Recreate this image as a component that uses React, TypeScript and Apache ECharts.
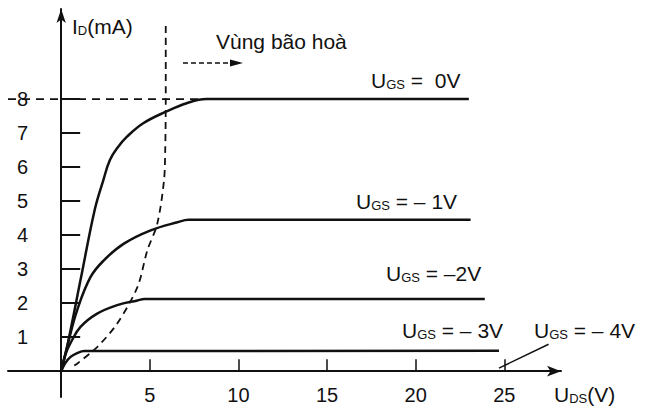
import React, { useEffect, useRef } from "react";
import * as echarts from "echarts";

// U_DS (V) and I_D (mA)
const ugs0U = [0, 0.38, 1.13, 1.9, 2.38, 2.75, 3.22, 3.7, 4.63, 5.91, 7.08, 8.2, 23.0];
const ugs0I = [0, 0.83, 2.78, 4.76, 5.62, 6.21, 6.6, 6.89, 7.29, 7.63, 7.88, 8.0, 8.0];

const ugs1U = [0, 0.4, 0.9, 1.66, 2.41, 3.54, 5.05, 6.56, 7.2, 23.1];
const ugs1I = [0, 0.85, 1.79, 2.77, 3.26, 3.75, 4.14, 4.38, 4.45, 4.45];

const ugs2U = [0, 0.25, 0.55, 1.09, 2.03, 3.16, 4.3, 4.7, 23.9];
const ugs2I = [0, 0.5, 0.85, 1.3, 1.69, 1.94, 2.08, 2.12, 2.12];

const ugs3U = [0, 0.25, 0.53, 0.9, 1.3, 24.7];
const ugs3I = [0, 0.25, 0.42, 0.53, 0.59, 0.6];

// pinch-off (saturation boundary) dashed locus
const locusU = [5.9, 5.9, 5.87, 5.8, 5.42, 4.86, 4.3, 3.16, 2.03, 0.9, 0.6];
const locusI = [10.15, 8.0, 6.5, 5.6, 4.33, 3.55, 2.47, 1.4, 0.71, 0.22, 0.12];

// I_DSS dashed guide
const idssU = [-3, 8.2];
const idssI = [8, 8];

// pointer for U_GS = -4V
const pointerU = [24.7, 27.5];
const pointerI = [0.09, 0.79];

const xTicks = [5, 10, 15, 20, 25];
const yTicks = [1, 2, 3, 4, 5, 6, 7, 8];

const zip = (a: number[], b: number[]) => a.map((v, i) => [v, b[i]]);

const FONT = "Liberation Sans, Arial, sans-serif";
const INK = "#111";

const subLabel = (main: string, sub: string, rest: string) => ({
  text: `{m|${main}}{s|${sub}}{m|${rest}}`,
  rich: {
    m: { fontSize: 21, fontFamily: FONT, fill: INK, lineHeight: 22 },
    s: { fontSize: 13, fontFamily: FONT, fill: INK, lineHeight: 10, verticalAlign: "bottom" },
  },
  fill: INK,
  verticalAlign: "bottom",
  align: "left",
});

export default function App() {
  const ref = useRef<HTMLDivElement>(null);
  useEffect(() => {
    if (!ref.current) return;
    const chart = echarts.init(ref.current, null, { renderer: "svg" });
    const curve = (name: string, u: number[], i: number[]) => ({
      name,
      type: "line",
      data: zip(u, i),
      smooth: 0.4,
      showSymbol: false,
      symbol: "none",
      lineStyle: { color: INK, width: 2.5 },
      z: 3,
    });
    chart.setOption({
      animation: false,
      backgroundColor: "#fff",
      grid: { left: 8, right: 84, top: 9, bottom: 12, containLabel: false, outerBoundsMode: "none" },
      xAxis: {
        type: "value",
        min: -3,
        max: 28.2,
        splitLine: { show: false },
        axisLine: {
          onZero: true,
          lineStyle: { color: INK, width: 2 },
          symbol: ["none", "arrow"],
          symbolSize: [8, 14],
        },
        axisTick: { customValues: xTicks, inside: true, length: 12, lineStyle: { color: INK, width: 1.5 } },
        axisLabel: { customValues: xTicks, margin: -12, fontSize: 20, fontFamily: FONT, color: INK },
      },
      yAxis: {
        type: "value",
        min: -0.76,
        max: 10.65,
        splitLine: { show: false },
        axisLine: {
          onZero: true,
          lineStyle: { color: INK, width: 2 },
          symbol: ["none", "arrow"],
          symbolSize: [7, 14],
        },
        axisTick: { customValues: yTicks, inside: true, length: 19, lineStyle: { color: INK, width: 2 } },
        axisLabel: { customValues: yTicks, margin: -20, fontSize: 20, fontFamily: FONT, color: INK },
      },
      series: [
        curve("UGS=0V", ugs0U, ugs0I),
        curve("UGS=-1V", ugs1U, ugs1I),
        curve("UGS=-2V", ugs2U, ugs2I),
        curve("UGS=-3V", ugs3U, ugs3I),
        {
          name: "locus",
          type: "line",
          data: zip(locusU, locusI),
          smooth: 0.3,
          showSymbol: false,
          symbol: "none",
          lineStyle: { color: INK, width: 1.8, type: [7, 5] },
          z: 2,
        },
        {
          name: "IDSS",
          type: "line",
          data: zip(idssU, idssI),
          showSymbol: false,
          symbol: "none",
          lineStyle: { color: INK, width: 1.8, type: [8, 6] },
          z: 2,
        },
        {
          name: "pointer",
          type: "line",
          data: zip(pointerU, pointerI),
          showSymbol: false,
          symbol: "none",
          lineStyle: { color: INK, width: 1.5 },
          z: 2,
        },
      ],
      graphic: [
        { type: "text", x: 72, y: 37, style: subLabel("I", "D", "(mA)") },
        { type: "text", x: 554, y: 405, style: subLabel("U", "DS", "(V)") },
        {
          type: "text",
          x: 216,
          y: 52,
          style: { text: "Vùng bão hoà", fontSize: 21, fontFamily: FONT, fill: INK, lineHeight: 22, verticalAlign: "bottom", align: "left" },
        },
        { type: "line", shape: { x1: 183, y1: 63, x2: 234, y2: 63 }, style: { stroke: INK, lineWidth: 1.5, lineDash: [5, 3] } },
        { type: "polygon", shape: { points: [[230, 59.5], [243, 63], [230, 66.5]] }, style: { fill: INK } },
        { type: "text", x: 371, y: 91, style: subLabel("U", "GS", " =  0V") },
        { type: "text", x: 356, y: 212, style: subLabel("U", "GS", " = – 1V") },
        { type: "text", x: 386, y: 284, style: subLabel("U", "GS", " = –2V") },
        { type: "text", x: 402, y: 341, style: subLabel("U", "GS", " = – 3V") },
        { type: "text", x: 534, y: 341, style: subLabel("U", "GS", " = – 4V") },
      ],
    });
    return () => chart.dispose();
  }, []);
  return (
    <div
      ref={ref}
      style={{ position: "fixed", left: 0, top: 0, width: 645, height: 409, background: "#fff" }}
    />
  );
}
